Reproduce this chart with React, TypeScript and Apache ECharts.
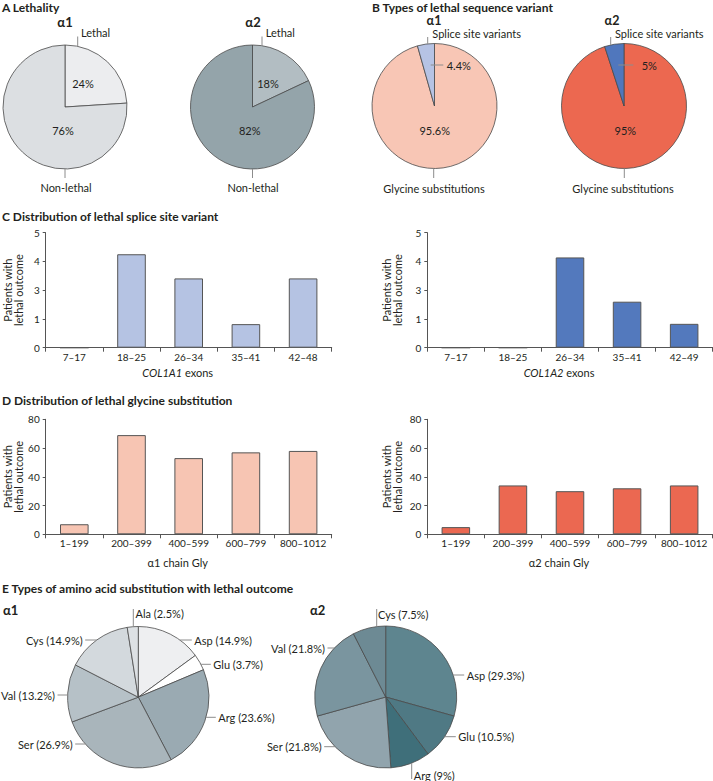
import React, { useEffect, useRef } from 'react';
import * as echarts from 'echarts';

// ---------- DATA ----------
const lethalityNames = ['Lethal', 'Non-lethal'];
const lethalityA1 = [24, 76];
const lethalityA2 = [18, 82];

const variantNames = ['Glycine substitutions', 'Splice site variants'];
const variantA1 = [95.6, 4.4];
const variantA2 = [95, 5];

const spliceCatsA1 = ['7–17', '18–25', '26–34', '35–41', '42–48'];
const spliceCatsA2 = ['7–17', '18–25', '26–34', '35–41', '42–49'];
const spliceTickLabels = ['0', '1', '3', '4', '5'];
const spliceA1 = [0, 3.25, 2.41, 0.82, 2.41];
const spliceA2 = [0, 0, 3.14, 1.6, 0.83];

const glyCats = ['1–199', '200–399', '400–599', '600–799', '800–1012'];
const glyA1 = [7, 69, 53, 57, 58];
const glyA2 = [5, 34, 30, 32, 34];

const aaNamesA1 = ['Asp', 'Glu', 'Arg', 'Ser', 'Val', 'Cys', 'Ala'];
const aaA1 = [14.9, 3.7, 23.6, 26.9, 13.2, 14.9, 2.5];
const aaNamesA2 = ['Asp', 'Glu', 'Arg', 'Ser', 'Val', 'Cys'];
const aaA2 = [29.3, 10.5, 9, 21.8, 21.8, 7.5];

const panelTitles = [
  'A Lethality',
  'B Types of lethal sequence variant',
  'C Distribution of lethal splice site variant',
  'D Distribution of lethal glycine substitution',
  'E Types of amino acid substitution with lethal outcome',
];
const chainLabels = ['α1', 'α2'];

// ---------- STYLE ----------
const FONT = 'Lato, "Noto Sans", "DejaVu Sans", sans-serif';
const TXT = '#231f20';
const LINE = '#8c8c8c';
const BORDER = '#4a4a4a';

const PIE = {
  a1: { c: [65, 107], r: 62 },
  a2: { c: [252.5, 107], r: 62 },
  b1: { c: [434.5, 106], r: 62.5 },
  b2: { c: [624, 106], r: 62.5 },
  e1: { c: [138.3, 697.2], r: 70.7 },
  e2: { c: [385.7, 697], r: 71 },
};

function textEl(text: string, x: number, y: number, align = 'left', size = 11, weight = 'normal') {
  return {
    type: 'text', x, y, silent: true, z: 10,
    style: {
      text, fill: TXT, fontSize: size, fontFamily: FONT, fontWeight: weight,
      align, verticalAlign: 'middle', textAlign: align, textVerticalAlign: 'middle',
    },
  };
}
function lineEl(x1: number, y1: number, x2: number, y2: number) {
  return { type: 'line', silent: true, z: 10, shape: { x1, y1, x2, y2 }, style: { stroke: LINE, lineWidth: 1 } };
}
function edgeX(p: any, y: number, side: number) {
  const dy = y - p.c[1];
  return p.c[0] + side * Math.sqrt(Math.max(0, p.r * p.r - dy * dy));
}
function edgeY(p: any, x: number, dir: number) {
  const dx = x - p.c[0];
  return p.c[1] + dir * Math.sqrt(Math.max(0, p.r * p.r - dx * dx));
}
function labelEls(p: any, s: any, text: string) {
  const out: any[] = [];
  if (s.t === 'h') {
    const ex = edgeX(p, s.y, s.side);
    out.push(lineEl(ex, s.y, s.tx - s.side * 2.5, s.y));
    out.push(textEl(text, s.tx, s.y, s.side > 0 ? 'left' : 'right'));
  } else if (s.t === 'vt') {
    out.push(lineEl(s.x, s.y1, s.x, edgeY(p, s.x, -1)));
    out.push(textEl(text, s.tx, s.ty, s.align || 'left'));
  } else if (s.t === 'vb') {
    out.push(lineEl(s.x, edgeY(p, s.x, 1), s.x, s.y2));
    out.push(textEl(text, s.tx, s.ty, s.align || 'left'));
  } else {
    if (s.lx1 != null) out.push(lineEl(s.lx1, s.ty, s.lx2, s.ty));
    out.push(textEl(text, s.tx, s.ty, s.align || 'center'));
  }
  return out;
}

function pieSeries(p: any, names: string[], values: number[], colors: string[]) {
  return {
    type: 'pie', center: p.c, radius: p.r, startAngle: 90, clockwise: true, silent: true,
    label: { show: false }, labelLine: { show: false }, emphasis: { disabled: true },
    itemStyle: { borderColor: BORDER, borderWidth: 0.8 },
    data: names.map((n, i) => ({ name: n, value: values[i], itemStyle: { color: colors[i] } })),
  };
}

function buildOption() {
  const graphic: any[] = [];
  // panel titles
  graphic.push(textEl(panelTitles[0], 2, 7, 'left', 12, 'bold'));
  graphic.push(textEl(panelTitles[1], 372, 7, 'left', 12, 'bold'));
  graphic.push(textEl(panelTitles[2], 2, 216, 'left', 12, 'bold'));
  graphic.push(textEl(panelTitles[3], 2, 400, 'left', 12, 'bold'));
  graphic.push(textEl(panelTitles[4], 2, 588, 'left', 12, 'bold'));
  // chain labels
  graphic.push(textEl(chainLabels[0], 65, 22, 'center', 13, 'bold'));
  graphic.push(textEl(chainLabels[1], 253, 22, 'center', 13, 'bold'));
  graphic.push(textEl(chainLabels[0], 434, 20.5, 'center', 12.5, 'bold'));
  graphic.push(textEl(chainLabels[1], 612, 20.5, 'center', 12.5, 'bold'));
  graphic.push(textEl(chainLabels[0], 3, 610, 'left', 13, 'bold'));
  graphic.push(textEl(chainLabels[1], 310, 610, 'left', 13, 'bold'));

  // Panel A labels
  const aOuter1 = [{ t: 'vt', x: 77.7, y1: 36.5, tx: 81, ty: 32 }, { t: 'vb', x: 65, y2: 178, tx: 66, ty: 187, align: 'center' }];
  const aInner1 = [{ tx: 83, ty: 83 }, { tx: 63, ty: 130 }];
  const aOuter2 = [{ t: 'vt', x: 262, y1: 36.5, tx: 265.7, ty: 32 }, { t: 'vb', x: 252.5, y2: 178, tx: 253, ty: 187, align: 'center' }];
  const aInner2 = [{ tx: 268, ty: 83 }, { tx: 249.7, ty: 130 }];
  lethalityNames.forEach((n, i) => {
    graphic.push(...labelEls(PIE.a1, aOuter1[i], n));
    graphic.push(...labelEls(PIE.a1, aInner1[i], `${lethalityA1[i]}%`));
    graphic.push(...labelEls(PIE.a2, aOuter2[i], n));
    graphic.push(...labelEls(PIE.a2, aInner2[i], `${lethalityA2[i]}%`));
  });
  // Panel B labels
  const bOuter1 = [{ t: 'vb', x: 433.7, y2: 178, tx: 434, ty: 188.3, align: 'center' }, { t: 'vt', x: 427.7, y1: 37, tx: 432.3, ty: 33.5 }];
  const bInner1 = [{ tx: 434.7, ty: 130 }, { tx: 446.7, ty: 65, align: 'left', lx1: 430.7, lx2: 443.3 }];
  const bOuter2 = [{ t: 'vb', x: 624.3, y2: 178, tx: 623, ty: 188.3, align: 'center' }, { t: 'vt', x: 610.7, y1: 37, tx: 615, ty: 33.5 }];
  const bInner2 = [{ tx: 625.3, ty: 130 }, { tx: 641.7, ty: 65, align: 'left', lx1: 618.3, lx2: 633.3 }];
  variantNames.forEach((n, i) => {
    graphic.push(...labelEls(PIE.b1, bOuter1[i], n));
    graphic.push(...labelEls(PIE.b1, bInner1[i], `${variantA1[i]}%`));
    graphic.push(...labelEls(PIE.b2, bOuter2[i], n));
    graphic.push(...labelEls(PIE.b2, bInner2[i], `${variantA2[i]}%`));
  });
  // Panel E labels
  const eSpec1 = [
    { t: 'h', side: 1, y: 640, tx: 194.3 },
    { t: 'h', side: 1, y: 664.3, tx: 213.3 },
    { t: 'h', side: 1, y: 717.3, tx: 218.3 },
    { t: 'h', side: -1, y: 744, tx: 72.7 },
    { t: 'h', side: -1, y: 695, tx: 55 },
    { t: 'h', side: -1, y: 640, tx: 82.7 },
    { t: 'vt', x: 133.3, y1: 609, tx: 135.5, ty: 613.3 },
  ];
  const eSpec2 = [
    { t: 'h', side: 1, y: 675, tx: 466.7 },
    { t: 'h', side: 1, y: 736.7, tx: 458.3 },
    { t: 'vb', x: 411.7, y2: 779, tx: 413.8, ty: 775 },
    { t: 'h', side: -1, y: 746.7, tx: 321.7 },
    { t: 'h', side: -1, y: 648, tx: 325 },
    { t: 'vt', x: 376.7, y1: 609, tx: 378, ty: 614 },
  ];
  aaNamesA1.forEach((n, i) => graphic.push(...labelEls(PIE.e1, eSpec1[i], `${n} (${aaA1[i]}%)`)));
  aaNamesA2.forEach((n, i) => graphic.push(...labelEls(PIE.e2, eSpec2[i], `${n} (${aaA2[i]}%)`)));

  const gridBase = { containLabel: false, outerBoundsMode: 'none' };
  const grids = [
    { ...gridBase, left: 45.7, top: 232.7, width: 286, height: 115 },
    { ...gridBase, left: 427.3, top: 232.7, width: 285.4, height: 115 },
    { ...gridBase, left: 45.7, top: 419.3, width: 286, height: 115 },
    { ...gridBase, left: 427.3, top: 419.3, width: 285.4, height: 115 },
  ];
  const axisLine = { show: true, lineStyle: { color: '#555', width: 1 } };
  const xAx = (gi: number, cats: string[], name: string, gap: number) => ({
    type: 'category', gridIndex: gi, data: cats,
    axisLine, axisTick: { show: true, length: 4, lineStyle: { color: '#555' } },
    axisLabel: { color: TXT, fontSize: 10, fontFamily: FONT, margin: 4, interval: 0, hideOverlap: false },
    name, nameLocation: 'middle', nameGap: gap,
    nameTextStyle: {
      color: TXT, fontSize: 11, fontFamily: FONT, padding: [0, 22, 0, 0],
      rich: { i: { fontStyle: 'italic', fontSize: 11, fontFamily: FONT, color: TXT } },
    },
  });
  const yAx = (gi: number, max: number, interval: number, gap: number, fmt?: any) => ({
    type: 'value', gridIndex: gi, min: 0, max, interval,
    axisLine, axisTick: { show: true, length: 3, lineStyle: { color: '#555' } },
    splitLine: { show: false },
    axisLabel: { color: TXT, fontSize: 10, fontFamily: FONT, margin: 6, formatter: fmt },
    name: 'Patients with\nlethal outcome', nameLocation: 'middle', nameGap: gap,
    nameTextStyle: { color: TXT, fontSize: 11, fontFamily: FONT, lineHeight: 11 },
  });
  const spliceFmt = (v: number) => spliceTickLabels[Math.round(v)] ?? '';
  const bar = (gi: number, data: number[], color: string) => ({
    type: 'bar', xAxisIndex: gi, yAxisIndex: gi, data, barWidth: '50%', silent: true,
    itemStyle: { color, borderColor: '#555', borderWidth: 1 },
  });

  return {
    animation: false,
    textStyle: { fontFamily: FONT },
    grid: grids,
    xAxis: [
      xAx(0, spliceCatsA1, '{i|COL1A1} exons', 19),
      xAx(1, spliceCatsA2, '{i|COL1A2} exons', 19),
      xAx(2, glyCats, 'α1 chain Gly', 22.5),
      xAx(3, glyCats, 'α2 chain Gly', 22.5),
    ],
    yAxis: [
      yAx(0, 4, 1, 21.5, spliceFmt),
      yAx(1, 4, 1, 24, spliceFmt),
      yAx(2, 80, 20, 21.5),
      yAx(3, 80, 20, 24),
    ],
    series: [
      bar(0, spliceA1, '#b5c3e3'),
      bar(1, spliceA2, '#5379bd'),
      bar(2, glyA1, '#f7c5b3'),
      bar(3, glyA2, '#eb6851'),
      pieSeries(PIE.a1, lethalityNames, lethalityA1, ['#ecedef', '#dcdfe2']),
      pieSeries(PIE.a2, lethalityNames, lethalityA2, ['#b2bdc2', '#94a4aa']),
      pieSeries(PIE.b1, variantNames, variantA1, ['#f8c6b5', '#b6c3e4']),
      pieSeries(PIE.b2, variantNames, variantA2, ['#ec6850', '#5077bd']),
      pieSeries(PIE.e1, aaNamesA1, aaA1, ['#eeeff1', '#ffffff', '#9aaab2', '#a9b5bb', '#b6c1c7', '#d3d9dd', '#dde1e4']),
      pieSeries(PIE.e2, aaNamesA2, aaA2, ['#5e858f', '#4f7984', '#3f6f7a', '#91a4ad', '#7a959f', '#6d8a94']),
    ],
    graphic: { elements: graphic },
  };
}

export default function App() {
  const ref = useRef<HTMLDivElement>(null);
  useEffect(() => {
    if (!ref.current) return;
    const chart = echarts.init(ref.current, null, { renderer: 'svg' });
    chart.setOption(buildOption() as any);
    return () => chart.dispose();
  }, []);
  return <div ref={ref} style={{ position: 'absolute', left: 0, top: 0, width: 713, height: 781 }} />;
}
